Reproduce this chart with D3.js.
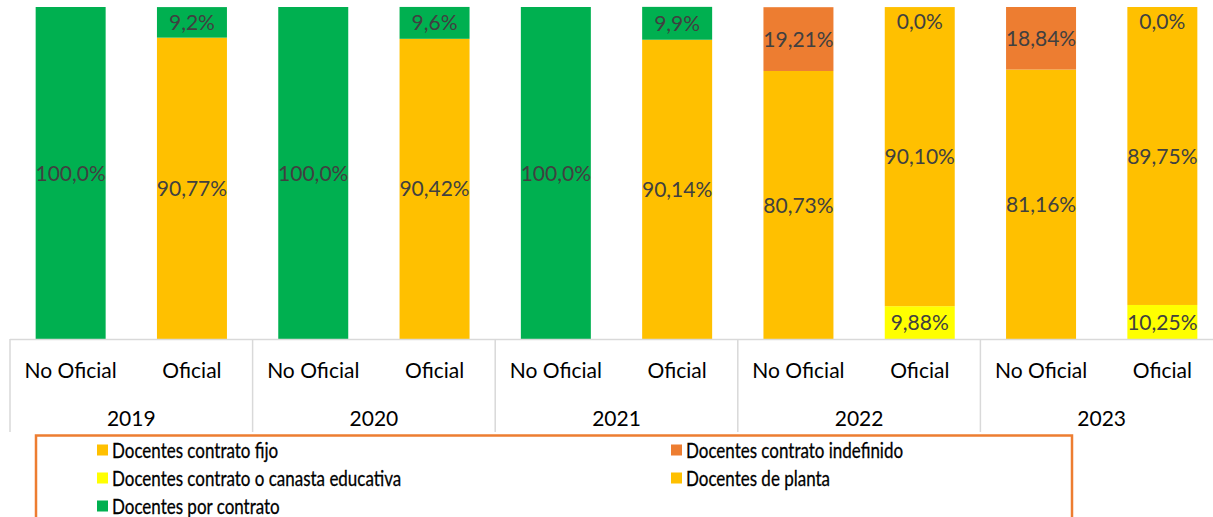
<!DOCTYPE html>
<html>
<head>
<meta charset="utf-8">
<script src="https://cdn.jsdelivr.net/npm/d3@7"></script>
<style>
  html, body { margin: 0; padding: 0; background: #fff; overflow: hidden; }
  svg { display: block; font-family: Lato, "Open Sans", sans-serif; }
</style>
</head>
<body>
<div id="chart"></div>
<script>
(function () {
  'use strict';

  // --- Data ---
  const years = ['2019', '2020', '2021', '2022', '2023'];
  const sectors = ['No Oficial', 'Oficial'];
  // stack order, bottom to top
  const seriesKeys = ['canasta', 'fijo', 'planta', 'indefinido', 'porContrato'];
  const seriesNames = {
    fijo: 'Docentes contrato fijo',
    indefinido: 'Docentes contrato indefinido',
    canasta: 'Docentes contrato o canasta educativa',
    planta: 'Docentes de planta',
    porContrato: 'Docentes por contrato'
  };
  const legendOrder = ['fijo', 'indefinido', 'canasta', 'planta', 'porContrato'];

  // one value per (year, sector), in the order years x sectors
  const fijo        = [null, null, null, null, null, null, 80.73, null, 81.16, null];
  const indefinido  = [null, null, null, null, null, null, 19.21, null, 18.84, null];
  const canasta     = [null, null, null, null, null, null, null, 9.88, null, 10.25];
  const planta      = [null, 90.77, null, 90.42, null, 90.14, null, 90.10, null, 89.75];
  const porContrato = [100.0, 9.2, 100.0, 9.6, 100.0, 9.9, null, 0.0, null, 0.0];
  // how many decimals Excel shows on each label
  const decimals = { fijo: 2, indefinido: 2, canasta: 2, planta: 2, porContrato: 1 };

  const COLORS = {
    fijo: '#FFC000',
    indefinido: '#ED7D31',
    canasta: '#FFFF00',
    planta: '#FFC000',
    porContrato: '#00B050',
    label: '#404040',
    axisText: '#000000',
    grid: '#D9D9D9',
    legendBorder: '#ED7D31'
  };

  const seriesValues = { fijo, indefinido, canasta, planta, porContrato };

  const rows = [];
  years.forEach((year, yi) => {
    sectors.forEach((sector, si) => {
      const i = yi * sectors.length + si;
      const row = { year, sector };
      seriesKeys.forEach(k => { row[k] = seriesValues[k][i]; });
      rows.push(row);
    });
  });

  // --- Layout ---
  const W = 1213, H = 517;
  const plotLeft = 10, plotRight = 1223;
  const plotTop = 7, plotBottom = 339;
  const axisBottom = 432;

  const svg = d3.select('#chart').append('svg')
    .attr('width', W).attr('height', H);

  const x0 = d3.scaleBand().domain(years).range([plotLeft, plotRight]).padding(0);
  const x1 = d3.scaleBand().domain(sectors).range([0, x0.bandwidth()])
    .paddingInner(0.423).paddingOuter(0.2115);
  const y = d3.scaleLinear().domain([0, 100]).range([plotBottom, plotTop]);

  const stack = d3.stack().keys(seriesKeys).value((d, k) => d[k] || 0);
  const stacked = stack(rows);

  // Bars
  const layers = svg.append('g').selectAll('g')
    .data(stacked)
    .join('g')
    .attr('fill', d => COLORS[d.key]);

  layers.selectAll('rect')
    .data(d => d.filter(s => s.data[d.key] !== null))
    .join('rect')
    .attr('x', d => x0(d.data.year) + x1(d.data.sector))
    .attr('y', d => y(d[1]))
    .attr('width', x1.bandwidth())
    .attr('height', d => Math.max(0, y(d[0]) - y(d[1])));

  // Data labels
  const fmt = (v, dec) => v.toFixed(dec).replace('.', ',') + '%';
  stacked.forEach(layer => {
    layer.forEach(s => {
      const v = s.data[layer.key];
      if (v === null) return;
      let cy = (y(s[0]) + y(s[1])) / 2;
      cy = Math.max(cy, plotTop + 14);
      svg.append('text')
        .attr('x', x0(s.data.year) + x1(s.data.sector) + x1.bandwidth() / 2)
        .attr('y', cy)
        .attr('dy', '0.36em')
        .attr('text-anchor', 'middle')
        .attr('fill', COLORS.label)
        .attr('font-size', '21px')
        .text(fmt(v, decimals[layer.key]));
    });
  });

  // Category axis (two levels)
  const axis = svg.append('g').attr('stroke', COLORS.grid).attr('stroke-width', 1.5);
  axis.append('line')
    .attr('x1', plotLeft).attr('x2', plotRight)
    .attr('y1', plotBottom + 0.5).attr('y2', plotBottom + 0.5);
  years.concat(['end']).forEach((yr, i) => {
    const xx = i < years.length ? x0(yr) : plotRight;
    axis.append('line')
      .attr('x1', xx).attr('x2', xx)
      .attr('y1', plotBottom).attr('y2', axisBottom);
  });

  years.forEach(yr => {
    sectors.forEach(sec => {
      svg.append('text')
        .attr('x', x0(yr) + x1(sec) + x1.bandwidth() / 2)
        .attr('y', 370)
        .attr('dy', '0.36em')
        .attr('text-anchor', 'middle')
        .attr('fill', COLORS.axisText)
        .attr('font-size', '21px')
        .text(sec);
    });
    svg.append('text')
      .attr('x', x0(yr) + x0.bandwidth() / 2)
      .attr('y', 418)
      .attr('dy', '0.36em')
      .attr('text-anchor', 'middle')
      .attr('fill', COLORS.axisText)
      .attr('font-size', '21px')
      .text(yr);
  });

  // Legend
  svg.append('rect')
    .attr('x', 36).attr('y', 435.5)
    .attr('width', 1036).attr('height', 120)
    .attr('fill', 'none')
    .attr('stroke', COLORS.legendBorder)
    .attr('stroke-width', 2.5);

  const colX = [97, 671];
  const rowY = [450, 478, 506];
  legendOrder.forEach((k, i) => {
    const lx = colX[i % 2];
    const ly = rowY[Math.floor(i / 2)];
    svg.append('rect')
      .attr('x', lx).attr('y', ly - 5.5)
      .attr('width', 11).attr('height', 11)
      .attr('fill', COLORS[k]);
    svg.append('text')
      .attr('transform', `translate(${lx + 15},${ly}) scale(0.79,1)`)
      .attr('dy', '0.36em')
      .attr('fill', COLORS.axisText)
      .attr('stroke', COLORS.axisText)
      .attr('stroke-width', 0.3)
      .attr('font-size', '21.5px')
      .text(seriesNames[k]);
  });
})();
</script>
</body>
</html>
